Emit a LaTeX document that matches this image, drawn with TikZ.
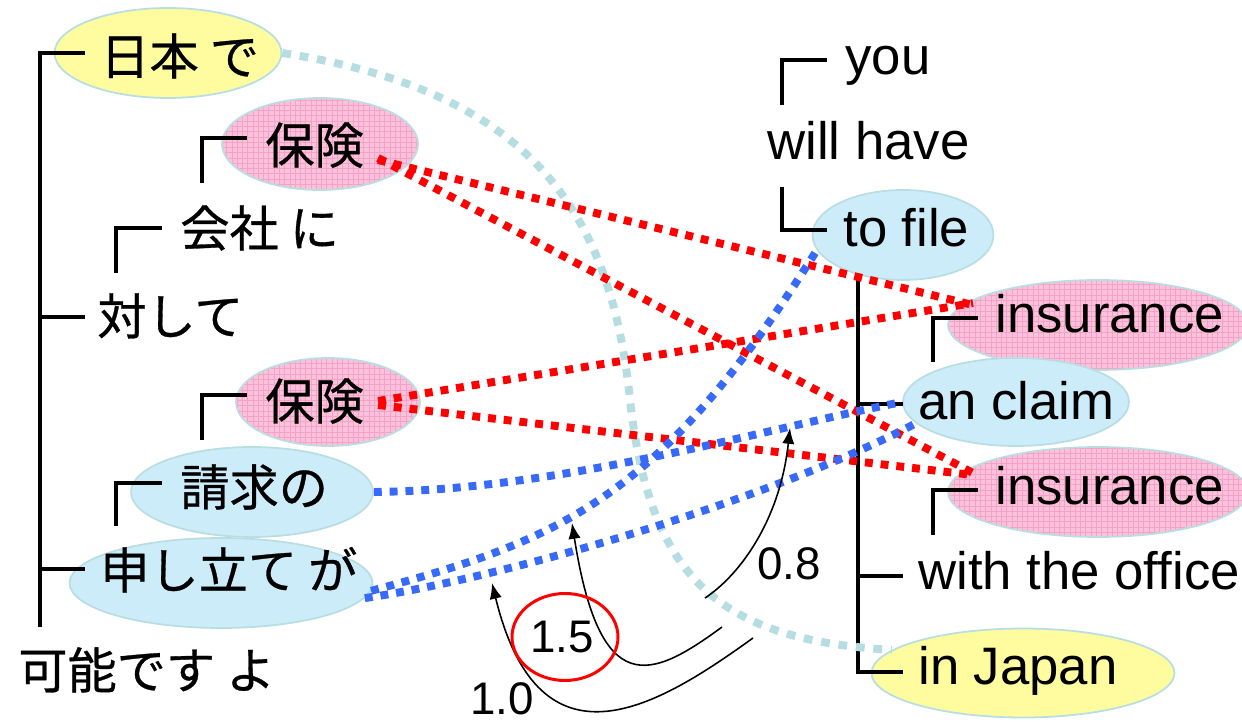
\documentclass[tikz,border=0pt]{standalone}
\usepackage{fontspec}
\setmainfont{Liberation Sans}
\newfontfamily\jp[FakeBold=0.6]{Noto Sans CJK JP}
\usetikzlibrary{shapes.geometric,patterns,arrows.meta}

\definecolor{skyfill}{RGB}{204,236,250}
\definecolor{pinkfill}{RGB}{252,194,219}
\definecolor{pinkgrid}{RGB}{246,162,200}
\definecolor{lemonfill}{RGB}{255,252,160}
\definecolor{rimcol}{RGB}{185,222,226}
\definecolor{linkR}{RGB}{255,0,0}
\definecolor{linkB}{RGB}{55,105,250}
\definecolor{linkP}{RGB}{182,222,226}

\begin{document}
\begin{tikzpicture}[x=0.02cm, y=-0.02cm, line cap=butt, line join=miter]

% --- Global TikZ Styles ---
\tikzset{
    bubble/.style={
        ellipse,
        draw=rimcol,
        line width=1pt,
        inner sep=0pt
    },
    skybubble/.style={bubble, fill=skyfill},
    lemonbubble/.style={bubble, fill=lemonfill},
    pinkbubble/.style={
        bubble,
        preaction={fill=pinkfill},
        pattern=grid,
        pattern color=pinkgrid
    },
    jword/.style={
        font=\jp\fontsize{28}{32}\selectfont,
        inner sep=0pt,
        anchor=west,
        text height=23.2pt,
        text depth=2pt
    },
    eword/.style={
        font=\fontsize{30}{36}\selectfont,
        inner sep=0pt,
        anchor=base west,
        text height=21.6pt,
        text depth=6.3pt
    },
    weight/.style={
        font=\fontsize{26}{30}\selectfont,
        inner sep=0pt,
        text height=18.6pt,
        text depth=0pt
    },
    tree/.style={
        draw=black,
        line width=2pt
    },
    redlink/.style={
        draw=linkR,
        line width=4.5pt,
        dash pattern=on 4.5pt off 4.5pt
    },
    bluelink/.style={
        draw=linkB,
        line width=4.5pt,
        dash pattern=on 4.5pt off 4.5pt
    },
    palelink/.style={
        draw=linkP,
        line width=4.5pt,
        dash pattern=on 5pt off 5pt
    },
    reorder/.style={
        draw=black,
        line width=0.9pt,
        -{Latex[length=9pt,width=7pt]}
    }
}

\useasboundingbox (0,0) rectangle (1242,722);

% --- Ellipsen (links) ---
\node[lemonbubble, minimum width=4.54cm, minimum height=1.8cm] (nihonBg) at (168,53) {};
\node[pinkbubble, minimum width=3.92cm, minimum height=1.84cm] (hokenABg) at (320,144) {};
\node[pinkbubble, minimum width=3.68cm, minimum height=1.76cm] (hokenBBg) at (328,402) {};
\node[skybubble, minimum width=4.84cm, minimum height=1.8cm] (seikyuBg) at (252,492) {};
\node[skybubble, minimum width=6.06cm, minimum height=1.8cm] (moshitateBg) at (221,583) {};

% --- Ellipsen (rechts) ---
\node[skybubble, minimum width=3.62cm, minimum height=1.8cm] (tofileBg) at (903,235) {};
\node[pinkbubble, minimum width=6.0cm, minimum height=1.8cm] (insABg) at (1098,325) {};
\node[skybubble, minimum width=4.52cm, minimum height=1.76cm] (anclaimBg) at (1016,402) {};
\node[pinkbubble, minimum width=6.0cm, minimum height=1.8cm] (insBBg) at (1098,492) {};
\node[lemonbubble, minimum width=6.06cm, minimum height=1.78cm] (japanBg) at (1023,673) {};

% --- Boomstructuur links ---
\draw[tree] (85,53) -- (40,53) -- (40,627);
\draw[tree] (40,317) -- (85,317);
\draw[tree] (40,569) -- (85,569);
\draw[tree] (202,183) -- (202,138) -- (247,138);
\draw[tree] (116,273) -- (116,228) -- (162,228);
\draw[tree] (202,440) -- (202,395) -- (247,395);
\draw[tree] (116,526) -- (116,483) -- (162,483);

% --- Boomstructuur rechts ---
\draw[tree] (782,105) -- (782,60) -- (827,60);
\draw[tree] (782,187) -- (782,230) -- (827,230);
\draw[tree] (858,275) -- (858,672) -- (903,672);
\draw[tree] (858,404) -- (903,404);
\draw[tree] (858,576) -- (903,576);
\draw[tree] (933,362) -- (933,318) -- (978,318);
\draw[tree] (933,535) -- (933,490) -- (978,490);

% --- Woorden ---
\node[jword] (nihon) at (100,56) {日本 で};
\node[jword] (hokenA) at (265,145) {保険};
\node[jword] (kaisha) at (180,228) {会社 に};
\node[jword] (taishite) at (97,316) {対して};
\node[jword] (hokenB) at (265,401) {保険};
\node[jword] (seikyu) at (180,487) {請求の};
\node[jword] (moshitate) at (100,570) {申し立て が};
\node[jword] (kanou) at (18,670) {可能です よ};

\node[eword] (you) at (845,75) {you};
\node[eword] (willhave) at (767,160) {will have};
\node[eword] (tofile) at (843,247) {to file};
\node[eword] (insA) at (995,333) {insurance};
\node[eword] (anclaim) at (918,420) {an claim};
\node[eword] (insB) at (995,505) {insurance};
\node[eword] (office) at (918,590) {with the office};
\node[eword] (japan) at (918,685) {in Japan};

% --- Uitlijningen ---
\draw[palelink] (nihonBg.east)
    .. controls (520,90) and (610,200) .. (630,400)
    .. controls (650,580) and (720,640) .. (japanBg.170);

\draw[redlink] ([shift={(0.28cm,-0.26cm)}]hokenA.east) -- ([shift={(-0.44cm,0.37cm)}]insB.west);
\draw[redlink] ([shift={(0.28cm,-0.3cm)}]hokenA.east) -- ([shift={(-0.44cm,0.29cm)}]insA.west);
\draw[redlink] ([shift={(0.28cm,0cm)}]hokenB.east) -- ([shift={(-0.44cm,0.33cm)}]insA.west);
\draw[redlink] ([shift={(0.28cm,-0.08cm)}]hokenB.east) -- ([shift={(-0.44cm,0.33cm)}]insB.west);

\draw[bluelink] (seikyuBg.east)
    .. controls (560,490) and (760,430) .. (anclaimBg.west);
\draw[bluelink] (moshitateBg.354)
    .. controls (520,575) and (780,495) .. (anclaimBg.192);
\draw[bluelink] (moshitateBg.357)
    .. controls (560,540) and (660,500) .. (tofileBg.190);

% --- Verschuivingen ---
\coordinate (tailA) at (722,627);
\coordinate (tipA) at (572,523);
\coordinate (tailB) at (753,638);
\coordinate (tipB) at (492,583);
\coordinate (tailC) at (705,598);
\coordinate (tipC) at (790,428);

\draw[reorder] (tailA) .. controls (650,680) and (600,700) .. (tipA);
\draw[reorder] (tailB) .. controls (660,705) and (540,780) .. (tipB);
\draw[reorder] (tailC) .. controls (740,575) and (780,520) .. (tipC);

\node[weight] (wA) at (562,636) {1.5};
\node[weight] (wB) at (502,698) {1.0};
\node[weight] (wC) at (789,563) {0.8};

\node[ellipse, draw=linkR, line width=1.7pt, minimum width=2.12cm, minimum height=1.74cm, inner sep=0pt] (ring) at (565,637) {};

\end{tikzpicture}
\end{document}
